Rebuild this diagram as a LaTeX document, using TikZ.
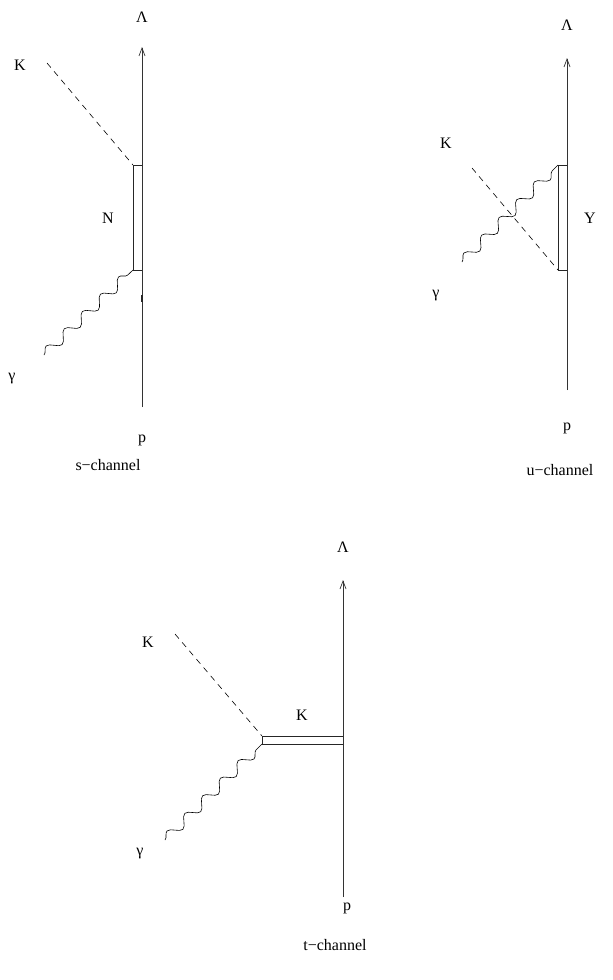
\documentclass[tikz,border=0pt]{standalone}
\usepackage{fontspec}
\setmainfont{Liberation Serif}
\usetikzlibrary{decorations.pathmorphing,arrows.meta}
\begin{document}
\begin{tikzpicture}[x=1pt,y=-1pt,
  lbl/.style={font=\fontsize{16}{18}\selectfont, inner sep=0pt},
  fermion/.style={line width=0.7pt, draw=black!80, -{Straight Barb[length=8pt,width=6pt]}},
  prop/.style={line width=0.6pt, draw=black!85},
  kaon/.style={line width=0.6pt, dash pattern=on 6pt off 5pt},
  photon/.style={line width=0.6pt, decorate, decoration={snake, segment length=25pt, amplitude=5pt}}]
\fill[white] (0,0) rectangle (613,980);
\useasboundingbox (0,0) rectangle (613,980);

% ---------- s-channel ----------
\coordinate (sB) at (142,407);
\coordinate (sT) at (142,47);
\coordinate (sV1) at (142,165);
\coordinate (sV2) at (142,270);
\coordinate (sA1) at (133,165);
\coordinate (sA2) at (133,270);
\coordinate (sK) at (47,63);
\coordinate (sG) at (44,355);
\coordinate (sm1) at (142,295);
\coordinate (sm2) at (142,302);
\draw[fermion] (sB) -- (sT);
\draw[prop] (sV1) -- (sA1) -- (sA2) -- (sV2);
\draw[line width=1.4pt, black!85] (sm1) -- (sm2);
\draw[kaon] (sK) -- (sA1);
\draw[photon] (sG) -- (sA2);
\node[lbl] (sLam) at (142,17) {Λ};
\node[lbl] (sKl) at (20,65) {K};
\node[lbl] (sN) at (108,218) {N};
\node[lbl] (sGl) at (12,379) {γ};
\node[lbl] (sp) at (142,440) {p};
\node[lbl] (sch) at (108,465) {s−channel};

% ---------- u-channel ----------
\coordinate (uB) at (567,390);
\coordinate (uT) at (567,58);
\coordinate (uV1) at (567,165);
\coordinate (uV2) at (567,270);
\coordinate (uA1) at (558,165);
\coordinate (uA2) at (558,270);
\coordinate (uK) at (472,168);
\coordinate (uG) at (462,262);
\draw[fermion] (uB) -- (uT);
\draw[prop] (uV1) -- (uA1) -- (uA2) -- (uV2);
\draw[kaon] (uK) -- (uA2);
\draw[photon] (uG) -- (uA1);
\node[lbl] (uLam) at (567,25) {Λ};
\node[lbl] (uKl) at (446,143) {K};
\node[lbl] (uY) at (590,218) {Y};
\node[lbl] (uGl) at (436,296) {γ};
\node[lbl] (up) at (567,428) {p};
\node[lbl] (uch) at (560,470) {u−channel};

% ---------- t-channel ----------
\coordinate (tB) at (343,897);
\coordinate (tT) at (343,580);
\coordinate (tV1) at (343,736);
\coordinate (tV2) at (343,744);
\coordinate (tA1) at (262,736);
\coordinate (tA2) at (262,744);
\coordinate (tK) at (175,634);
\coordinate (tG) at (165,840);
\draw[fermion] (tB) -- (tT);
\draw[prop] (tV1) -- (tA1) -- (tA2) -- (tV2);
\draw[kaon] (tK) -- (tA1);
\draw[photon] (tG) -- (tA2);
\node[lbl] (tLam) at (343,547) {Λ};
\node[lbl] (tKl) at (148,642) {K};
\node[lbl] (tKm) at (302,715) {K};
\node[lbl] (tGl) at (140,854) {γ};
\node[lbl] (tp) at (347,908) {p};
\node[lbl] (tch) at (335,945) {t−channel};
\end{tikzpicture}
\end{document}
